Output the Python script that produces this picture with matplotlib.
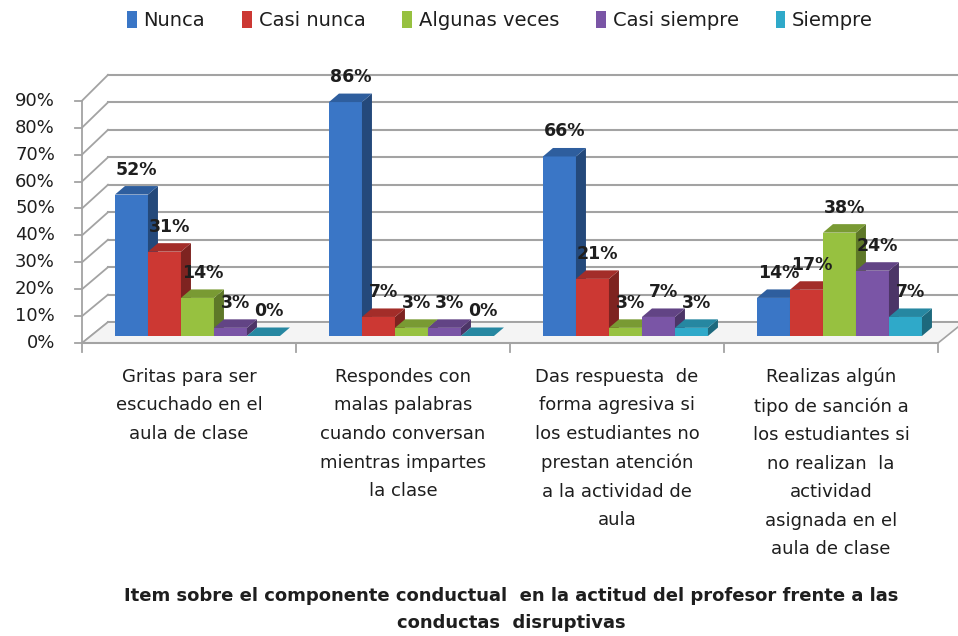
import matplotlib
matplotlib.use("Agg")
import matplotlib.pyplot as plt
from matplotlib.patches import Polygon, Patch
import numpy as np
import matplotlib.colors as mcolors

# ---------------- data ----------------
categories = [
    "Gritas para ser\nescuchado en el\naula de clase",
    "Respondes con\nmalas palabras\ncuando conversan\nmientras impartes\nla clase",
    "Das respuesta  de\nforma agresiva si\nlos estudiantes no\nprestan atención\na la actividad de\naula",
    "Realizas algún\ntipo de sanción a\nlos estudiantes si\nno realizan  la\nactividad\nasignada en el\naula de clase",
]
series_names = ["Nunca", "Casi nunca", "Algunas veces", "Casi siempre", "Siempre"]
nunca = [52, 86, 66, 14]
casi_nunca = [31, 7, 21, 17]
algunas_veces = [14, 3, 3, 38]
casi_siempre = [3, 3, 7, 24]
siempre = [0, 0, 3, 7]
y_ticks = [0, 10, 20, 30, 40, 50, 60, 70, 80, 90]
x_title = "Item sobre el componente conductual  en la actitud del profesor frente a las\nconductas  disruptivas"

series_values = [nunca, casi_nunca, algunas_veces, casi_siempre, siempre]
colors = ["#3a76c6", "#cc3833", "#97c140", "#7a55a6", "#2fa9c9"]

plt.rcParams['font.family'] = ['DejaVu Sans']
TXT = "#1e1e1e"

fig = plt.figure(figsize=(9.58, 6.36), dpi=100)
ax = fig.add_axes([0, 0, 1, 1])
ax.axis("off")

# pixel geometry helpers (scale only)
PX_X = 214.0      # px per category
PX_Y = 2.72       # px per percent
x0_px, base_px = 82.0, 336.0
ax.set_xlim(-0.5 + (0 - x0_px) / PX_X, -0.5 + (958 - x0_px) / PX_X)
ax.set_ylim((base_px - 636) / PX_Y, (base_px - 0) / PX_Y)

def front(v):
    return -2.6 + 0.99 * v

def back(v):
    return 5.1 + 1.01 * v

xl_f, xr_f = -0.5, len(categories) - 0.5
wall_dx = 26 / PX_X
xl_b, xr_b = xl_f + wall_dx, xr_f + wall_dx
grid_c = "#a3a3a3"

# floor
floor = Polygon([(xl_f, front(0)), (xr_f, front(0)), (xr_b, back(0)), (xl_b, back(0))],
                closed=True, facecolor="#f4f4f4", edgecolor=grid_c, lw=1.2, zorder=1)
ax.add_patch(floor)

# back wall gridlines + left wall diagonals
for v in y_ticks:
    ax.plot([xl_b, xr_b], [back(v), back(v)], color=grid_c, lw=1.5, zorder=0.5)
    ax.plot([xl_f, xl_b], [front(v), back(v)], color=grid_c, lw=1.3, zorder=0.6)
    ax.plot([xl_f - 7 / PX_X, xl_f], [front(v), front(v)], color=grid_c, lw=1.3, zorder=0.6)
    ax.text(xl_f - 27 / PX_X, front(v), f"{v}%", ha="right", va="center",
            fontsize=13, color=TXT)
# y axis line
ax.plot([xl_f, xl_f], [front(0), front(90)], color=grid_c, lw=1.3, zorder=0.6)
# x axis line and ticks
ax.plot([xl_f, xr_f], [front(0), front(0)], color=grid_c, lw=1.5, zorder=2)
for k in range(len(categories) + 1):
    xb = xl_f + k
    ax.plot([xb, xb], [front(0), front(0) - 9 / PX_Y], color=grid_c, lw=1.3, zorder=2)

# bars
bw = 33 / PX_X
ddx = 10 / PX_X
ddy = 8.5 / PX_Y
start = -0.346
xc = np.arange(len(categories))
for i, (name, vals, col) in enumerate(zip(series_names, series_values, colors)):
    lefts = xc + start + i * bw
    rgb = np.array(mcolors.to_rgb(col))
    top_c = rgb * 0.80
    side_c = rgb * 0.62
    z = 3 + i
    ax.bar(lefts, vals, width=bw, bottom=0, align="edge", color=col,
           edgecolor="none", zorder=z)
    for l, v in zip(lefts, vals):
        ax.add_patch(Polygon([(l + bw, 0), (l + bw + ddx, ddy), (l + bw + ddx, v + ddy), (l + bw, v)],
                             closed=True, facecolor=side_c, edgecolor="none", zorder=z))
        ax.add_patch(Polygon([(l, v), (l + bw, v), (l + bw + ddx, v + ddy), (l + ddx, v + ddy)],
                             closed=True, facecolor=top_c, edgecolor="none", zorder=z))
    for l, v in zip(lefts, vals):
        ax.text(l + bw / 2 + 5 / PX_X, v + 25 / PX_Y, f"{v}%", ha="center", va="center",
                fontsize=12.5, fontweight="bold", color=TXT, zorder=20)

# category labels
for c, lab in zip(xc, categories):
    ax.text(c, (base_px - 368) / PX_Y, lab, ha="center", va="top", fontsize=13,
            color=TXT, linespacing=1.75)

# axis title
ax.text(-0.5 + (511 - x0_px) / PX_X, (base_px - 587) / PX_Y, x_title, ha="center", va="top",
        fontsize=13, fontweight="bold", color=TXT, linespacing=1.65)

# legend
handles = [Patch(facecolor=c, edgecolor="none") for c in colors]
fig.legend(handles, series_names, loc="upper center", bbox_to_anchor=(0.522, 1.01),
           ncol=5, frameon=False, fontsize=14, handlelength=0.5, handleheight=0.9,
           handletextpad=0.35, columnspacing=1.9, labelcolor=TXT)

fig.savefig("out.png", dpi=100)
